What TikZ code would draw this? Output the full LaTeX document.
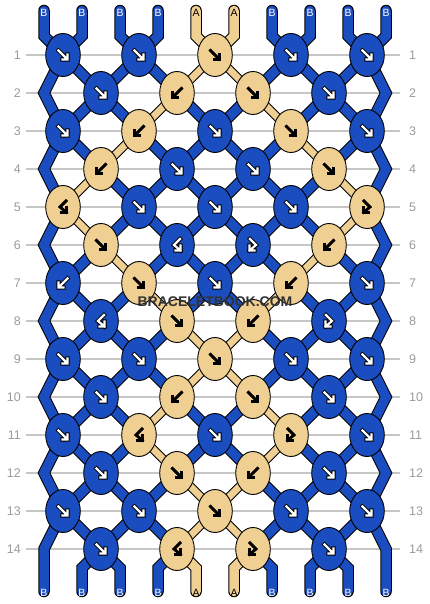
\documentclass[tikz,border=0pt]{standalone}
\usepackage{fontspec}
\newfontfamily\lsans{Liberation Sans}
\usetikzlibrary{shapes.geometric}
\definecolor{colB}{HTML}{1A4DBF}
\definecolor{colA}{HTML}{F0CF92}
\definecolor{gridc}{HTML}{C6C6C6}
\definecolor{numc}{HTML}{9C9C9C}
\definecolor{wmc}{HTML}{333333}
\begin{document}
\begin{tikzpicture}[x=1pt,y=-1pt,
  knotB/.style={ellipse, draw=black, line width=0.9pt, fill=colB, minimum width=34.6pt, minimum height=43pt, inner sep=0pt},
  knotA/.style={knotB, fill=colA},
  wideout/.style={line width=11.5pt, black, line cap=round, line join=miter},
  wideinB/.style={line width=9.5pt, colB, line cap=round, line join=miter},
  wideinA/.style={line width=9.5pt, colA, line cap=round, line join=miter},
  segoutB/.style={line width=11.5pt, black, line cap=round},
  seginB/.style={line width=9.5pt, colB, line cap=round},
  segoutA/.style={line width=9pt, black, line cap=round},
  seginA/.style={line width=7pt, colA, line cap=round},
  haloB/.style={black, line width=4.2pt, line cap=rect, line join=miter},
  inkB/.style={white, line width=2.2pt, line cap=rect, line join=miter},
  haloA/.style={black, line width=2.6pt, line cap=rect, line join=miter},
  inkA/.style={haloA},
  lblB/.style={font=\lsans\fontsize{10.5}{12}\selectfont, text=white, inner sep=0pt},
  lblA/.style={lblB, text=black},
  numL/.style={font=\lsans\fontsize{12.5}{14}\selectfont, text=numc, inner sep=0pt, anchor=east},
  numR/.style={numL, anchor=west},
  wm/.style={font=\lsans\bfseries\fontsize{14}{16}\selectfont, inner sep=0pt},
  pics/arrF/.style={code={\draw[#1] (-4.5,-4.5)--(3.5,3.5) (4.5,-0.5)--(4.5,4.5)--(-0.5,4.5);}},
  pics/arrB/.style={code={\draw[#1] (4.5,-4.5)--(-3.5,3.5) (-4.5,-0.5)--(-4.5,4.5)--(0.5,4.5);}},
  pics/arrFB/.style={code={\draw[#1] (-3,-6)--(3,0)--(-3.5,5.5) (-3.5,0.5)--(-3.5,5.5)--(1.5,5.5);}},
  pics/arrBF/.style={code={\draw[#1] (3,-6)--(-3,0)--(3.5,5.5) (3.5,0.5)--(3.5,5.5)--(-1.5,5.5);}},
]
\useasboundingbox (0,0) rectangle (430,604);
\fill[white] (0,0) rectangle (430,604);

% row lines and numbers
\foreach \r in {1,...,14}{
  \pgfmathsetmacro\yy{55+38*(\r-1)}
  \draw[gridc, line width=1.5pt] (26,\yy) -- (400,\yy);
  \node[numL] (nl-\r) at (21,\yy) {\r};
  \node[numR] (nr-\r) at (409,\yy) {\r};
}

% string coordinates
\foreach \p in {0,...,9}{
  \pgfmathsetmacro\xs{44+38*\p}
  \coordinate (t-\p) at (\xs,10.5);
  \coordinate (tb-\p) at (\xs,36);
  \coordinate (bb-\p) at (\xs,568);
  \coordinate (be-\p) at (\xs,591.5);
  \foreach \r in {1,...,14}{
    \pgfmathsetmacro\yy{55+38*(\r-1)}
    \pgfmathsetmacro\xx{mod(\r,2)==1 ? 63+76*floor(\p/2) : (\p==0 ? 44 : (\p==9 ? 386 : 101+76*floor((\p-1)/2)))}
    \coordinate (s-\r-\p) at (\xx,\yy);
  }
}

% ---- outline pass
\foreach \p in {0,9}{
  \draw[wideout] (t-\p) -- (tb-\p) \foreach \r in {1,...,14}{ -- (s-\r-\p)} -- (be-\p);
}
\foreach \p/\c in {1/B,2/B,3/B,4/A,5/A,6/B,7/B,8/B}{
  \draw[wideout] (t-\p) -- (tb-\p) -- (s-1-\p);
  \draw[wideout] (s-14-\p) -- (bb-\p) -- (be-\p);
}
\foreach \cl [count=\r] in {{B,B,B,A,A,B,B,B},{B,B,A,B,B,A,B,B},{B,A,B,B,B,B,A,B},{A,B,B,B,B,B,B,A},{A,B,B,B,B,B,B,A},{B,A,B,B,B,B,A,B},{B,B,A,B,B,A,B,B},{B,B,B,A,A,B,B,B},{B,B,B,A,A,B,B,B},{B,B,A,B,B,A,B,B},{B,B,A,B,B,A,B,B},{B,B,B,A,A,B,B,B},{B,B,B,A,A,B,B,B}}{
  \pgfmathtruncatemacro\rn{\r+1}
  \foreach \c [count=\p] in \cl {
    \draw[segout\c] (s-\r-\p) -- (s-\rn-\p);
  }
}

% ---- colour pass
\foreach \p in {0,9}{
  \draw[wideinB] (t-\p) -- (tb-\p) \foreach \r in {1,...,14}{ -- (s-\r-\p)} -- (be-\p);
}
\foreach \p/\c in {1/B,2/B,3/B,4/A,5/A,6/B,7/B,8/B}{
  \draw[widein\c] (t-\p) -- (tb-\p) -- (s-1-\p);
  \draw[widein\c] (s-14-\p) -- (bb-\p) -- (be-\p);
}
\foreach \cl [count=\r] in {{B,B,B,A,A,B,B,B},{B,B,A,B,B,A,B,B},{B,A,B,B,B,B,A,B},{A,B,B,B,B,B,B,A},{A,B,B,B,B,B,B,A},{B,A,B,B,B,B,A,B},{B,B,A,B,B,A,B,B},{B,B,B,A,A,B,B,B},{B,B,B,A,A,B,B,B},{B,B,A,B,B,A,B,B},{B,B,A,B,B,A,B,B},{B,B,B,A,A,B,B,B},{B,B,B,A,A,B,B,B}}{
  \pgfmathtruncatemacro\rn{\r+1}
  \foreach \c [count=\p] in \cl {
    \draw[segin\c] (s-\r-\p) -- (s-\rn-\p);
  }
}

% ---- knots
\foreach \kl [count=\r] in {
  {F/B,F/B,F/A,F/B,F/B},
  {F/B,B/A,F/A,F/B},
  {F/B,B/A,F/B,F/A,F/B},
  {B/A,F/B,F/B,F/A},
  {BF/A,F/B,F/B,F/B,FB/A},
  {F/A,BF/B,FB/B,B/A},
  {B/B,F/A,F/B,B/A,F/B},
  {BF/B,F/A,B/A,FB/B},
  {F/B,F/B,F/A,F/B,F/B},
  {F/B,B/A,F/A,F/B},
  {F/B,BF/A,F/B,FB/A,F/B},
  {F/B,F/A,B/A,F/B},
  {F/B,F/B,F/A,F/B,F/B},
  {F/B,BF/A,FB/A,F/B}}{
  \foreach \t/\c [count=\k from 0] in \kl {
    \pgfmathsetmacro\xx{mod(\r,2)==1 ? 63+76*\k : 101+76*\k}
    \pgfmathsetmacro\yy{55+38*(\r-1)}
    \node[knot\c] (k-\r-\k) at (\xx,\yy) {};
    \pic at (k-\r-\k) {arr\t=halo\c};
    \pic at (k-\r-\k) {arr\t=ink\c};
  }
}

% ---- string end labels
\foreach \p/\c in {0/B,1/B,2/B,3/B,4/A,5/A,6/B,7/B,8/B,9/B}{
  \node[lbl\c] (lt-\p) at (44+38*\p,12.7) {\c};
  \node[lbl\c] (lb-\p) at (44+38*\p,592.7) {\c};
}

% ---- watermark
\node[wm, text=wmc] (wm) at (215,301.5) {BRACELETBOOK.COM};
\end{tikzpicture}
\end{document}
